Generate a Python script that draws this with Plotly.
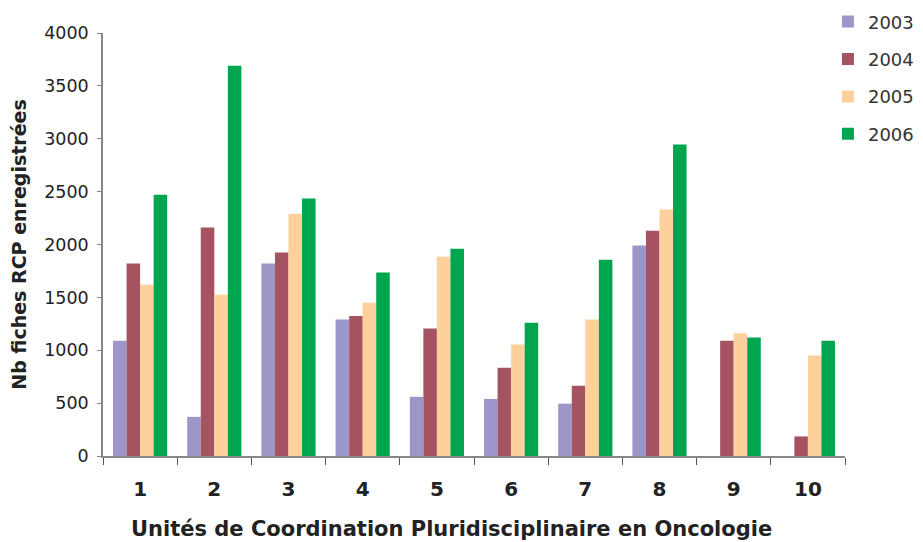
import plotly.graph_objects as go

categories = ["1", "2", "3", "4", "5", "6", "7", "8", "9", "10"]
years = ["2003", "2004", "2005", "2006"]
v2003 = [1090, 370, 1820, 1290, 560, 540, 495, 1990, 0, 0]
v2004 = [1820, 2160, 1925, 1325, 1205, 835, 665, 2130, 1090, 185]
v2005 = [1620, 1525, 2290, 1450, 1885, 1055, 1290, 2330, 1160, 950]
v2006 = [2470, 3690, 2435, 1735, 1960, 1260, 1855, 2945, 1120, 1090]
colors = ["#9D96C8", "#A65361", "#FDD09C", "#00A54F"]
x_title = "Unités de Coordination Pluridisciplinaire en Oncologie"
y_title = "Nb fiches RCP enregistrées"

series = [v2003, v2004, v2005, v2006]

fig = go.Figure()
for name, vals, col in zip(years, series, colors):
    fig.add_trace(go.Bar(x=categories, y=vals, name=name, marker_color=col,
                         marker_line_width=0, legendgroup=name))

font_family = "DejaVu Sans, Liberation Sans, Arial, sans-serif"
# the page body adds an 8px margin; size the figure to the visible window
fig.update_layout(
    width=907, height=534,
    margin=dict(l=95, r=70, t=25, b=86, autoexpand=False),
    paper_bgcolor="white", plot_bgcolor="white",
    barmode="group", bargap=0.27, bargroupgap=0,
    font=dict(family=font_family, color="#222"),
    showlegend=True,
    legend=dict(x=0.977, xanchor="left", y=1.070, yanchor="top",
                font=dict(size=18, color="#333"), traceorder="grouped",
                tracegroupgap=11, bgcolor="rgba(0,0,0,0)"),
    xaxis=dict(
        showline=True, linecolor="#888", linewidth=1.5,
        ticks="outside", tickson="boundaries", ticklen=7, tickcolor="#555",
        tickfont=dict(size=20, color="#222", family=font_family, weight="bold"),
        ticklabelstandoff=14,
        showgrid=False,
    ),
    yaxis=dict(
        range=[0, 4000], tickvals=[0, 500, 1000, 1500, 2000, 2500, 3000, 3500, 4000],
        showline=True, linecolor="#888", linewidth=1.5,
        ticks="outside", ticklen=4, tickcolor="#888",
        tickfont=dict(size=17.5, color="#222"),
        ticklabelstandoff=5,
        title=dict(text="<b>" + y_title + "</b>",
                   font=dict(size=19, color="#222"), standoff=13),
        showgrid=False, zeroline=False,
    ),
    annotations=[dict(
        text="<b>" + x_title + "</b>", xref="paper", yref="paper",
        x=0.47, y=-0.1726, xanchor="center", yanchor="middle",
        showarrow=False, font=dict(size=21, color="#222", family=font_family),
    )],
)

fig.write_html("out.html")
